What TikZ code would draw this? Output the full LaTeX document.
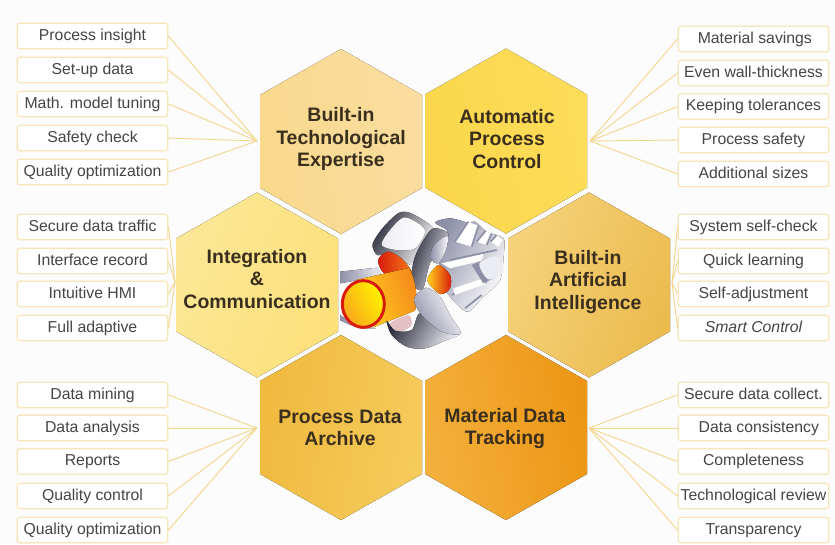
\documentclass[tikz,border=0pt]{standalone}
\usepackage{fontspec}
\setmainfont{Liberation Sans}
\definecolor{linkcol}{HTML}{F3D78F}
\definecolor{boxcol}{HTML}{F7E5B6}
\definecolor{textcol}{HTML}{454545}
\definecolor{headcol}{HTML}{3A2F1E}
\definecolor{expertisea}{HTML}{F9D98C}
\definecolor{expertiseb}{HTML}{FADDA0}
\definecolor{controla}{HTML}{FCD74C}
\definecolor{controlb}{HTML}{FDDC58}
\definecolor{integrationa}{HTML}{FBE796}
\definecolor{integrationb}{HTML}{FCE07A}
\definecolor{intelligencea}{HTML}{F6D27A}
\definecolor{intelligenceb}{HTML}{EBBB4E}
\definecolor{archivea}{HTML}{F0BA3E}
\definecolor{archiveb}{HTML}{F5CB5C}
\definecolor{trackinga}{HTML}{F4B03C}
\definecolor{trackingb}{HTML}{EC9614}
\definecolor{steeldark}{HTML}{2A2B3A}
\definecolor{steelmid}{HTML}{8E90A8}
\definecolor{steellight}{HTML}{ECEDF3}
\definecolor{hotred}{HTML}{D91A0A}
\definecolor{hotorange}{HTML}{F58A1C}
\definecolor{hotyellow}{HTML}{FFD21E}
\definecolor{hotpink}{HTML}{E2C0C4}
\tikzset{
  itembox/.style={draw=boxcol,line width=0.9pt,rounded corners=2pt,fill=white,
    minimum width=113pt,minimum height=19pt,inner sep=0pt,text height=9pt,text depth=2.6pt,
    text=textcol,font=\fontsize{11.85}{14}\selectfont},
  hexlabel/.style={align=center,inner sep=0pt,text=headcol,font=\fontsize{14.6}{16.6}\selectfont\bfseries},
  link/.style={draw=linkcol,line width=0.7pt},
}
\newcommand{\hexcell}[5]{
  \fill[left color=#3,right color=#4,shading angle=#5] (#1,#2-92.5) -- (#1+81,#2-46.5) -- (#1+81,#2+46.5)
    -- (#1,#2+92.5) -- (#1-81,#2+46.5) -- (#1-81,#2-46.5) -- cycle;
}
\begin{document}
\begin{tikzpicture}[x=0.75pt,y=-0.75pt]
\useasboundingbox (0,0) rectangle (835,544);
\fill[white!99!black] (0,0) rectangle (835,544);

\hexcell{341}{141.5}{expertisea}{expertiseb}{100}
\hexcell{506}{141}{controla}{controlb}{100}
\hexcell{257}{285}{integrationa}{integrationb}{70}
\hexcell{589}{285}{intelligencea}{intelligenceb}{70}
\hexcell{341}{427.5}{archivea}{archiveb}{80}
\hexcell{506}{427.5}{trackinga}{trackingb}{100}

\node[hexlabel] (expertise) at (341,139) {Built-in\\Technological\\Expertise};
\node[hexlabel] (control) at (507,139) {Automatic\\Process\\Control};
\node[hexlabel] (integration) at (257,279) {Integration\\\&\\Communication};
\node[hexlabel] (intelligence) at (588,282) {Built-in\\Artificial\\Intelligence};
\node[hexlabel] (archive) at (340,428) {Process Data\\Archive};
\node[hexlabel] (tracking) at (505,428.5) {Material Data\\Tracking};

\begin{scope}[shift={(340,200)},x=0.25pt,y=-0.25pt]
\fill[left color=steelmid,right color=steellight] (0,215) -- (112,203) -- (125,228) -- (0,250) -- cycle;
\fill[left color=steelmid,right color=steellight] (0,345) -- (60,385) -- (110,385) -- (30,375) -- (0,360) -- cycle;
\fill[left color=steeldark,right color=white,shading angle=60] plot[smooth cycle] coordinates {(98,132) (130,82) (178,38) (218,42) (282,88) (250,140) (218,195) (150,162) (112,165)};
\fill[left color=steellight,right color=white] plot[smooth cycle] coordinates {(125,135) (150,90) (195,52) (255,90) (225,145) (170,150)};
\fill[left color=hotred,right color=hotorange] plot[smooth cycle] coordinates {(115,178) (145,155) (190,180) (228,240) (215,295) (160,240) (125,212)};
\fill[left color=steelmid,right color=white,shading angle=60] plot[smooth cycle] coordinates {(300,165) (322,95) (285,68) (330,55) (385,68) (405,65) (440,95) (490,115) (492,155) (480,240) (430,290) (382,335) (330,290) (300,240)};
\fill[white] (345,125) -- (385,65) -- (415,78) -- (395,140) -- cycle;
\fill[white] (410,125) -- (440,92) -- (455,100) -- (440,135) -- cycle;
\fill[white] (452,125) -- (470,105) -- (488,120) -- (475,140) -- cycle;
\draw[steelmid,line width=1.3pt] (345,125) -- (385,65) (395,140) -- (415,78) (410,125) -- (437,92) (440,135) -- (455,100) (452,125) -- (470,105) (330,180) -- (470,150) (335,285) -- (440,245) (375,325) -- (425,285);
\fill[white] (305,190) -- (430,162) -- (425,182) -- (330,205) -- cycle;
\fill[white] (340,265) -- (440,232) -- (435,252) -- (345,285) -- cycle;
\fill[steelmid] (395,195) -- (440,175) -- (470,230) -- (430,250) -- cycle;
\fill[steellight] plot[smooth cycle] coordinates {(418,190) (470,170) (490,215) (445,238)};
\fill[left color=hotyellow,right color=hotred] plot[smooth cycle] coordinates {(262,240) (295,195) (330,225) (330,265) (300,282)};
\fill[left color=steeldark,right color=steellight,shading angle=70] plot[smooth cycle] coordinates {(215,250) (225,170) (275,88) (325,100) (310,135) (270,190) (248,268)};
\fill[left color=steelmid,right color=white] plot[smooth cycle] coordinates {(282,135) (322,108) (318,150) (295,190) (272,175)};
\fill[left color=hotyellow,right color=hotorange,shading angle=110] (48,240) -- (207,204) .. controls (228,240) and (235,300) .. (225,332) -- (100,382) -- cycle;
\fill[hotpink] plot[smooth cycle] coordinates {(150,370) (205,345) (215,375) (190,392) (165,395)};
\fill[left color=steeldark,right color=steellight,shading angle=60] plot[smooth cycle] coordinates {(140,362) (155,405) (200,440) (255,445) (320,420) (358,402) (300,380) (240,340) (215,390) (165,392)};
\fill[left color=steelmid,right color=white,shading angle=120] plot[smooth cycle] coordinates {(222,297) (258,263) (300,290) (330,345) (362,400) (305,395) (245,345)};
\filldraw[draw=hotred,line width=2.2pt,left color=hotorange!60!hotyellow,right color=yellow!90!orange,shading angle=120] (70,312) ellipse (63 and 70);
\end{scope}

\node[itembox] (insight) at (92.5,36) {Process insight};
\node[itembox] (setup) at (92.5,70) {Set-up data};
\node[itembox] (tuning) at (92.5,104) {Math. model tuning};
\node[itembox] (safety) at (92.5,138) {Safety check};
\node[itembox] (optleft) at (92.5,172) {Quality optimization};
\node[itembox] (traffic) at (92.5,227) {Secure data traffic};
\node[itembox] (record) at (92.5,261) {Interface record};
\node[itembox] (hmi) at (92.5,294) {Intuitive HMI};
\node[itembox] (adaptive) at (92.5,328) {Full adaptive};
\node[itembox] (mining) at (92.5,395) {Data mining};
\node[itembox] (analysis) at (92.5,428) {Data analysis};
\node[itembox] (reports) at (92.5,461.5) {Reports};
\node[itembox] (quality) at (92.5,496) {Quality control};
\node[itembox] (optarchive) at (92.5,530) {Quality optimization};

\node[itembox] (savings) at (753.5,39) {\hspace*{2pt}Material savings};
\node[itembox] (wall) at (753.5,73) {Even wall-thickness};
\node[itembox] (tolerances) at (753.5,106.5) {Keeping tolerances};
\node[itembox] (procsafety) at (753.5,140) {Process safety};
\node[itembox] (sizes) at (753.5,174) {Additional sizes};
\node[itembox] (selfcheck) at (753.5,227) {System self-check};
\node[itembox] (learning) at (753.5,261) {Quick learning};
\node[itembox] (adjustment) at (753.5,294) {Self-adjustment};
\node[itembox] (smart) at (753.5,328) {\itshape Smart Control};
\node[itembox] (collect) at (753.5,395) {Secure data collect.};
\node[itembox] (consistency) at (753.5,428) {\hspace*{8pt}Data consistency};
\node[itembox] (completeness) at (753.5,461.5) {Completeness};
\node[itembox] (review) at (753.5,496) {Technological review};
\node[itembox] (transparency) at (753.5,530) {Transparency};

\coordinate (hubone) at (257,141);
\coordinate (hubtwo) at (590,141);
\coordinate (hubthree) at (175,282);
\coordinate (hubfour) at (672,283);
\coordinate (hubfive) at (257,428);
\coordinate (hubsix) at (589,428);

\draw[link] (insight.east) -- (hubone);
\draw[link] (setup.east) -- (hubone);
\draw[link] (tuning.east) -- (hubone);
\draw[link] (safety.east) -- (hubone);
\draw[link] (optleft.east) -- (hubone);
\draw[link] (savings.west) -- (hubtwo);
\draw[link] (wall.west) -- (hubtwo);
\draw[link] (tolerances.west) -- (hubtwo);
\draw[link] (procsafety.west) -- (hubtwo);
\draw[link] (sizes.west) -- (hubtwo);
\draw[link] (traffic.east) -- (hubthree);
\draw[link] (record.east) -- (hubthree);
\draw[link] (hmi.east) -- (hubthree);
\draw[link] (adaptive.east) -- (hubthree);
\draw[link] (selfcheck.west) -- (hubfour);
\draw[link] (learning.west) -- (hubfour);
\draw[link] (adjustment.west) -- (hubfour);
\draw[link] (smart.west) -- (hubfour);
\draw[link] (mining.east) -- (hubfive);
\draw[link] (analysis.east) -- (hubfive);
\draw[link] (reports.east) -- (hubfive);
\draw[link] (quality.east) -- (hubfive);
\draw[link] (optarchive.east) -- (hubfive);
\draw[link] (collect.west) -- (hubsix);
\draw[link] (consistency.west) -- (hubsix);
\draw[link] (completeness.west) -- (hubsix);
\draw[link] (review.west) -- (hubsix);
\draw[link] (transparency.west) -- (hubsix);
\end{tikzpicture}
\end{document}
